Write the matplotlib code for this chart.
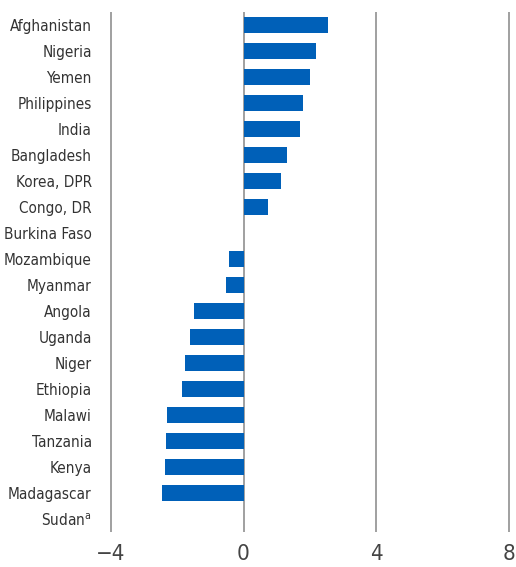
import matplotlib.pyplot as plt
from matplotlib import font_manager

countries = ["Afghanistan", "Nigeria", "Yemen", "Philippines", "India", "Bangladesh",
             "Korea, DPR", "Congo, DR", "Burkina Faso", "Mozambique", "Myanmar", "Angola",
             "Uganda", "Niger", "Ethiopia", "Malawi", "Tanzania", "Kenya", "Madagascar",
             "Sudan$^{\\mathrm{a}}$"]
values = [2.56, 2.19, 2.01, 1.78, 1.71, 1.31, 1.14, 0.75, 0.0, -0.43, -0.53, -1.50,
          -1.62, -1.77, -1.87, -2.32, -2.35, -2.37, -2.47, 0.0]
xticks = [-4, 0, 4, 8]
xticklabels = ["\u22124", "0", "4", "8"]

# look for a condensed face, fall back to DejaVu Sans
narrow = [f for f in font_manager.fontManager.ttflist
          if ("Narrow" in f.name or "Condensed" in f.name or f.stretch in ("condensed", 75, "semi-condensed"))
          and f.style == "normal"]
fam = [narrow[0].name, "DejaVu Sans"] if narrow else ["DejaVu Sans"]
stretch = narrow[0].stretch if narrow else "normal"
plt.rcParams['font.family'] = fam
plt.rcParams['font.stretch'] = stretch

fig = plt.figure(figsize=(5.16, 5.67), dpi=100)
ax = fig.add_axes([0.213, 0.062, 0.775, 0.917])

ypos = list(range(len(countries)))
for x in xticks:
    ax.axvline(x, color="#a0a0a0", lw=1.4, zorder=1)
ax.barh(ypos, values, height=0.62, color="#0060b8", zorder=2)

ax.set_xlim(-4.03, 8.03)
ax.set_ylim(len(countries) - 0.5, -0.5)
ax.set_yticks(ypos)
ax.set_yticklabels(countries, fontsize=11, color="#333333")
ax.set_xticks(xticks)
ax.set_xticklabels(xticklabels, fontsize=16, color="#444444")
ax.tick_params(length=0)
ax.tick_params(axis="y", pad=13)
ax.tick_params(axis="x", pad=9)
for s in ax.spines.values():
    s.set_visible(False)

fig.savefig("out.png", dpi=100)
